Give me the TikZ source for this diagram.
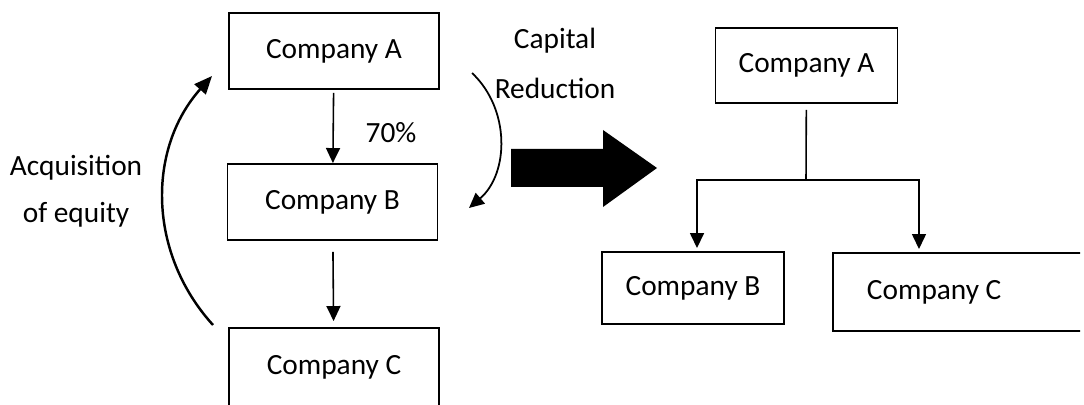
\documentclass[tikz,border=0pt]{standalone}
\usepackage{fontspec}
\setmainfont{Carlito}
\usetikzlibrary{arrows.meta}

\begin{document}
\begin{tikzpicture}[x=0.02cm, y=-0.02cm,
        font = \fontsize{16.7pt}{20pt}\selectfont,
        box/.style = { draw, line width=1.1pt, minimum width=4.2cm, minimum height=1.52cm},
        smallbox/.style = { draw, line width=1.1pt, minimum width=3.64cm, minimum height=1.5cm},
        link/.style = { line width=0.9pt},
        arr/.style = { line width=0.9pt, -{Triangle[length=0.3cm, width=0.28cm]}},
        twolines/.style = { align=center, font=\fontsize{16.7pt}{27pt}\selectfont}]

    \useasboundingbox (0,0) rectangle (1084,405);
    \clip (0,0) rectangle (1080,405);

    % Before: chain of companies
    \node[box] (A1) at (334,51) {Company A};
    \node[box] (B1) at (332.5,202) {Company B};
    \node[box, minimum height=1.56cm] (C1) at (334,367) {Company C};

    \draw[arr, shorten <=0.06cm] (A1) -- (B1);
    \draw[arr, shorten <=0.22cm, shorten >=0.12cm] (B1) -- (C1);
    \node (pct) at (391,133) {70\%};

    % Acquisition of equity
    \coordinate (acqstart) at (213,325);
    \coordinate (acqend) at (212,76);
    \draw[line width=1.4pt, -{Triangle[length=0.36cm, width=0.3cm]}] (acqstart) to[bend left=42] (acqend);
    \node[twolines] (acq) at (76,191.5) {Acquisition\\of equity};

    % Capital reduction
    \coordinate (capstart) at (472,73);
    \coordinate (capend) at (469,208);
    \draw[line width=1pt, -{Triangle[length=0.3cm, width=0.28cm]}] (capstart) to[bend left=48] (capend);
    \node[twolines, font=\fontsize{16.7pt}{28pt}\selectfont] (cap) at (555,63.5) {Capital\\Reduction};

    % Big arrow
    \fill (511,149) -- (603,149) -- (603,130) -- (657,168) -- (603,207) -- (603,187) -- (511,187) -- cycle;

    % After: A holds B and C
    \node[smallbox] (A2) at (806.5,65.5) {Company A};
    \node[smallbox, minimum height=1.44cm] (B2) at (693,288) {Company B};
    \node[smallbox, anchor=north west, minimum height=1.56cm, inner xsep=0.68cm]
        (C2) at (832,252) {\makebox[5cm][l]{Company C}};

    \coordinate (fork) at (806,180);
    \draw[link, shorten <=0.12cm] (A2) -- (fork);
    \draw[arr, shorten >=0.06cm] (fork) -| ([xshift=0.08cm]B2.north);
    \draw[arr, shorten >=0.06cm] (fork) -| ([xshift=1.74cm]C2.north west);

\end{tikzpicture}
\end{document}
